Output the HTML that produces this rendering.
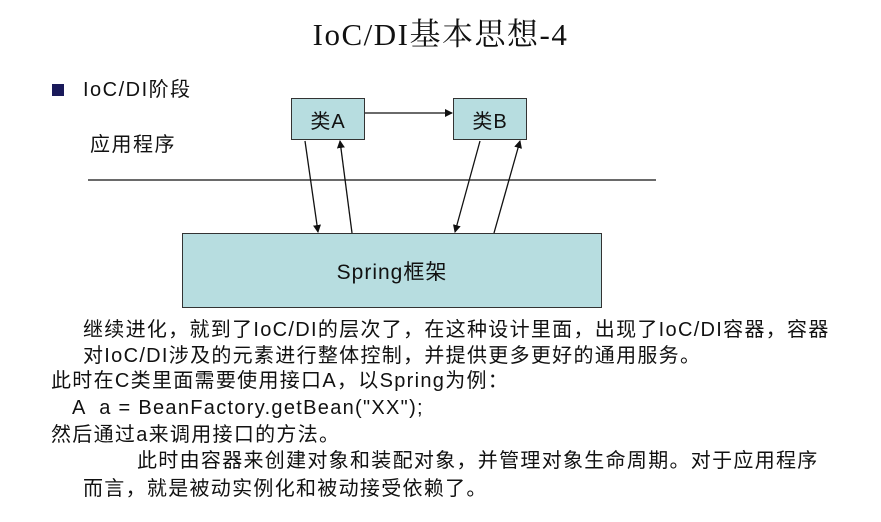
<!DOCTYPE html><html><head><meta charset="utf-8"><style>
body{margin:0;width:881px;height:522px;background:#fff;position:relative;overflow:hidden;font-family:"Liberation Sans","Noto Sans CJK SC",sans-serif;color:#111}
.t{position:absolute;white-space:nowrap;font-size:20px;line-height:22px;letter-spacing:1.3px}
.box{position:absolute;background:#b7dde0;border:1px solid #333;box-sizing:border-box;display:flex;align-items:center;justify-content:center;font-size:20px;letter-spacing:1px}
</style></head><body>
<div class="t" style="left:0;width:881px;text-align:center;top:18px;font-family:'Liberation Serif','Noto Serif CJK SC',serif;font-size:31px;line-height:34px;letter-spacing:1.5px">IoC/DI基本思想-4</div>
<div style="position:absolute;left:52px;top:84px;width:12px;height:12px;background:#1a1a5a"></div>
<div class="t" style="left:83px;top:79px;letter-spacing:1.5px">IoC/DI阶段</div>
<div class="t" style="left:90px;top:134px;font-size:20px;letter-spacing:1.5px">应用程序</div>
<div class="box" style="left:291px;top:98px;width:74px;height:42px">类A</div>
<div class="box" style="left:453px;top:98px;width:74px;height:42px">类B</div>
<div class="box" style="left:182px;top:233px;width:420px;height:75px;font-size:21px">Spring框架</div>
<svg width="881" height="522" style="position:absolute;left:0;top:0">
<defs><marker id="a" markerWidth="8" markerHeight="8" refX="7" refY="4" orient="auto" markerUnits="userSpaceOnUse"><path d="M0,0L8,4L0,8z" fill="#111"/></marker></defs>
<g stroke="#111" stroke-width="1.3" fill="none">
<line x1="88" y1="180" x2="656" y2="180"/>
<line x1="365" y1="113" x2="452" y2="113" marker-end="url(#a)"/>
<line x1="305" y1="141" x2="318" y2="232" marker-end="url(#a)"/>
<line x1="352" y1="233" x2="340" y2="141" marker-end="url(#a)"/>
<line x1="480" y1="141" x2="455" y2="232" marker-end="url(#a)"/>
<line x1="494" y1="233" x2="520" y2="141" marker-end="url(#a)"/>
</g></svg>
<div class="t" style="left:83px;top:319px">继续进化，就到了IoC/DI的层次了，在这种设计里面，出现了IoC/DI容器，容器</div>
<div class="t" style="left:83px;top:345px">对IoC/DI涉及的元素进行整体控制，并提供更多更好的通用服务。</div>
<div class="t" style="left:51px;top:370px">此时在C类里面需要使用接口A，以Spring为例：</div>
<div class="t" style="left:72px;top:397px">A &nbsp;a = BeanFactory.getBean("XX");</div>
<div class="t" style="left:51px;top:424px">然后通过a来调用接口的方法。</div>
<div class="t" style="left:137px;top:450px">此时由容器来创建对象和装配对象，并管理对象生命周期。对于应用程序</div>
<div class="t" style="left:83px;top:478px">而言，就是被动实例化和被动接受依赖了。</div>
</body></html>
